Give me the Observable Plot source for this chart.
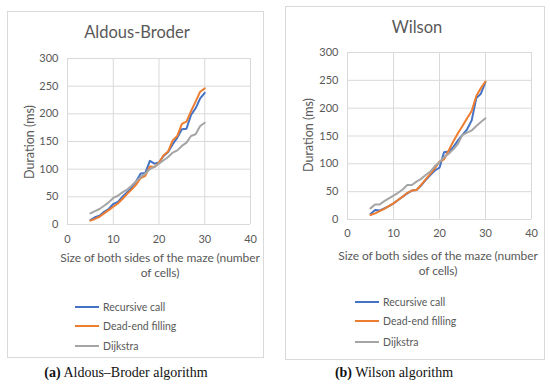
<!DOCTYPE html>
<html>
<head>
<meta charset="utf-8">
<script src="https://cdn.jsdelivr.net/npm/d3@7"></script>
<script src="https://cdn.jsdelivr.net/npm/@observablehq/plot@0.6"></script>
<style>
  html, body { margin: 0; padding: 0; background: #fff; }
  #page { position: relative; width: 550px; height: 385px; overflow: hidden; font-family: Lato, "Open Sans", sans-serif; color: #595959; }
  .box { position: absolute; border: 1px solid #d9d9d9; box-sizing: border-box; }
  .abs { position: absolute; white-space: nowrap; }
  .title { font-size: 16.5px; transform: translate(-50%, -50%); }
  .xt { font-size: 12px; letter-spacing: -0.1px; transform: translate(-50%, -50%); text-align: center; line-height: 14.5px; }
  .yt { font-size: 12.5px; transform: translate(-50%, -50%) rotate(-90deg); }
  .leg { font-size: 10.5px; transform: translateY(-50%); }
  .sw { position: absolute; height: 2px; width: 24px; transform: translateY(-50%); }
  .cap { font-family: "Liberation Serif", "DejaVu Serif", serif; font-size: 14px; color: #111; transform: translate(-50%, -50%); }
  .plot { position: absolute; }
</style>
</head>
<body>
<div id="page"></div>
<script>
const sizes = [5,6,7,8,9,10,11,12,13,14,15,16,17,18,19,20,21,22,23,24,25,26,27,28,29,30];
const seriesNames = ["Recursive call", "Dead-end filling", "Dijkstra"];
const seriesColors = ["#4472C4", "#ED7D31", "#A5A5A5"];
const xTicks = [0, 10, 20, 30, 40];
const yTicks = [0, 50, 100, 150, 200, 250, 300];

// Aldous-Broder
const abRecursive = [8,13,16,23,28,37,41,50,58,66,78,92,93,115,110,112,124,131,145,157,172,173,198,210,228,238];
const abDeadEnd   = [7,10,14,20,26,32,38,46,55,63,72,84,88,105,104,112,125,132,152,160,182,186,205,222,240,246];
const abDijkstra  = [20,24,28,34,40,48,52,58,63,70,78,86,92,100,104,110,116,122,130,134,142,148,160,163,178,184];

// Wilson
const wRecursive = [10,17,16,20,24,29,35,41,47,52,53,61,71,80,88,93,121,122,130,142,152,162,178,218,226,247];
const wDeadEnd   = [8,11,15,19,24,29,35,41,48,52,53,62,72,82,92,104,108,124,140,155,168,182,195,222,236,248];
const wDijkstra  = [20,27,27,33,38,43,48,54,62,62,68,73,80,86,96,103,112,118,126,136,152,156,160,168,175,182];

const page = document.getElementById("page");

function toRows(arrays) {
  const rows = [];
  arrays.forEach((vals, si) => {
    vals.forEach((v, i) => rows.push({x: sizes[i], y: v, s: seriesNames[si]}));
  });
  return rows;
}

function makePlot(rows, opts) {
  return Plot.plot({
    width: opts.width,
    height: opts.height,
    marginLeft: opts.ml,
    marginRight: opts.mr,
    marginTop: opts.mt,
    marginBottom: opts.mb,
    style: {fontFamily: "Lato, 'Open Sans', sans-serif", fontSize: "11px", color: "#595959", background: "transparent"},
    x: {domain: [0, 40], label: null},
    y: {domain: [0, 300], label: null},
    color: {domain: seriesNames, range: seriesColors},
    marks: [
      Plot.gridX(xTicks, {stroke: "#d9d9d9", strokeOpacity: 1}),
      Plot.gridY(yTicks, {stroke: "#d9d9d9", strokeOpacity: 1}),
      Plot.axisX(xTicks, {tickSize: 0, tickPadding: opts.xpad, fill: "#595959", label: null}),
      Plot.axisY(yTicks, {tickSize: 0, tickPadding: 9, fill: "#595959", label: null}),
      Plot.line(rows, {x: "x", y: "y", z: "s", stroke: "s", strokeWidth: 2, strokeLinejoin: "round", strokeLinecap: "round"})
    ]
  });
}

function addEl(cls, html, left, top) {
  const d = document.createElement("div");
  d.className = cls;
  d.innerHTML = html;
  d.style.left = left + "px";
  d.style.top = top + "px";
  page.appendChild(d);
  return d;
}

function panel(cfg) {
  const box = document.createElement("div");
  box.className = "box";
  Object.assign(box.style, {left: cfg.box[0] + "px", top: cfg.box[1] + "px", width: cfg.box[2] + "px", height: cfg.box[3] + "px"});
  page.appendChild(box);

  const svg = makePlot(toRows(cfg.data), cfg.plot);
  svg.classList.add("plot");
  svg.style.left = cfg.plotPos[0] + "px";
  svg.style.top = cfg.plotPos[1] + "px";
  page.appendChild(svg);

  addEl("abs title", cfg.title, cfg.titlePos[0], cfg.titlePos[1]);
  addEl("abs yt", "Duration (ms)", cfg.yPos[0], cfg.yPos[1]);
  addEl("abs xt", "Size of both sides of the maze (number<br>of cells)", cfg.xPos[0], cfg.xPos[1]);

  seriesNames.forEach((n, i) => {
    const y = cfg.legY[i];
    const sw = document.createElement("div");
    sw.className = "sw";
    sw.style.left = cfg.legX + "px";
    sw.style.top = y + "px";
    sw.style.background = seriesColors[i];
    page.appendChild(sw);
    addEl("abs leg", n, cfg.legX + 28, y);
  });

  addEl("abs cap", cfg.caption, cfg.capPos[0], cfg.capPos[1]);
}

panel({
  box: [7, 11, 257, 347],
  data: [abRecursive, abDeadEnd, abDijkstra],
  plot: {width: 256, height: 210, ml: 60, mr: 13, mt: 18, mb: 26, xpad: 11},
  plotPos: [7, 40],
  title: "Aldous-Broder",
  titlePos: [137, 32],
  yPos: [29, 142],
  xPos: [160, 265],
  legX: 75,
  legY: [307, 326, 346],
  caption: "<b>(a)</b> Aldous–Broder algorithm",
  capPos: [126, 373]
});

panel({
  box: [285, 6, 260, 354],
  data: [wRecursive, wDeadEnd, wDijkstra],
  plot: {width: 259, height: 211, ml: 62, mr: 13, mt: 18, mb: 26, xpad: 10},
  plotPos: [285, 34],
  title: "Wilson",
  titlePos: [417, 27],
  yPos: [308, 135],
  xPos: [438, 263],
  legX: 355,
  legY: [302, 321, 342],
  caption: "<b>(b)</b> Wilson algorithm",
  capPos: [394, 373]
});
</script>
</body>
</html>
